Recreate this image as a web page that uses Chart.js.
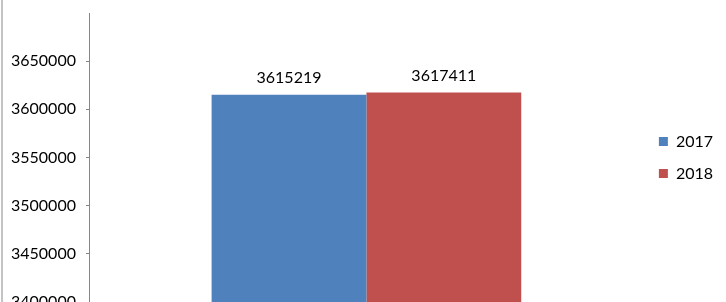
<!DOCTYPE html>
<html>
<head>
<meta charset="utf-8">
<script src="https://cdn.jsdelivr.net/npm/chart.js@4/dist/chart.umd.min.js"></script>
<style>
    html, body { margin: 0; padding: 0; background: #fff; overflow: hidden; }
    #frame { position: absolute; left: 1px; top: 0; width: 2px; height: 302px; background: #c4c4c4; }
    #box { position: absolute; left: 0; top: 0; width: 726px; height: 330px; }
</style>
</head>
<body>
<div id="box"><canvas id="chart"></canvas></div>
<div id="frame"></div>
<script>
const categories = [''];
const seriesNames = ['2017', '2018'];
const values2017 = [3615219];
const values2018 = [3617411];
const seriesColors = ['#4F81BD', '#C0504D'];
const yMin = 3400000, yMax = 3700000, yStep = 50000;

const FONT = 'Lato, "Open Sans", sans-serif';

// numbers above each bar
const barLabels = {
    id: 'barLabels',
    afterDatasetsDraw(chart) {
        const ctx = chart.ctx;
        ctx.save();
        ctx.font = '16px ' + FONT;
        ctx.fillStyle = '#000';
        ctx.textAlign = 'center';
        ctx.textBaseline = 'bottom';
        chart.data.datasets.forEach((ds, i) => {
            chart.getDatasetMeta(i).data.forEach((bar, j) => {
                ctx.fillText(String(ds.data[j]), bar.x, bar.y - 9);
            });
        });
        ctx.restore();
    }
};

new Chart(document.getElementById('chart'), {
    type: 'bar',
    data: {
        labels: categories,
        datasets: [
            { label: seriesNames[0], data: values2017, backgroundColor: seriesColors[0], borderWidth: 0 },
            { label: seriesNames[1], data: values2018, backgroundColor: seriesColors[1], borderWidth: 0 }
        ]
    },
    options: {
        responsive: true, maintainAspectRatio: false, animation: false,
        // canvas is taller than the window so the bottom tick label is cut like the original
        layout: { autoPadding: false, padding: { left: 1, top: 13, right: 3, bottom: 28 } },
        categoryPercentage: 0.56, barPercentage: 1,
        plugins: {
            legend: {
                position: 'right',
                labels: { boxWidth: 9, boxHeight: 9, padding: 16, color: '#000', font: { family: FONT, size: 16 } }
            },
            tooltip: { enabled: false }
        },
        scales: {
            x: { display: false },
            y: {
                min: yMin, max: yMax,
                afterFit(scale) { scale.paddingTop = 0; scale.paddingBottom = 0; },
                border: { color: '#868686', width: 1 },
                grid: { drawOnChartArea: false, tickLength: 4, color: '#868686' },
                ticks: {
                    stepSize: yStep, padding: 10, color: '#000', font: { family: FONT, size: 16 },
                    callback: v => v >= yMax ? null : String(v)
                }
            }
        }
    },
    plugins: [barLabels]
});
</script>
</body>
</html>
